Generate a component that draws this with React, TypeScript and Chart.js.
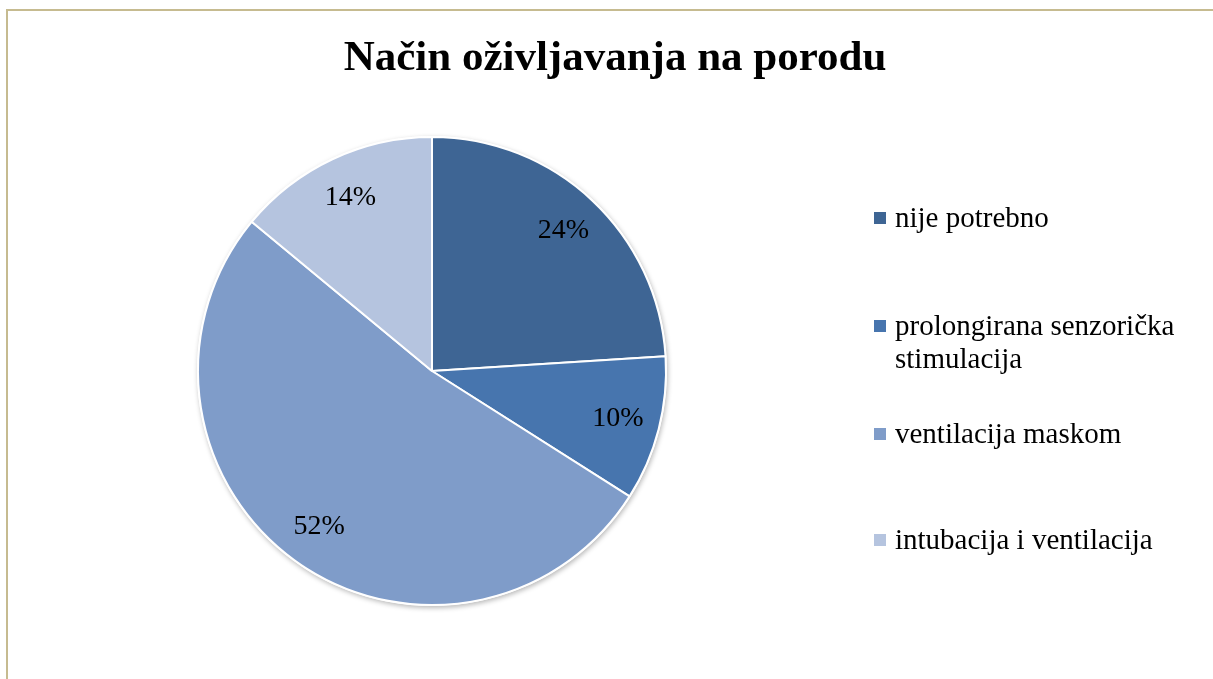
import React, { useEffect, useRef } from "react";
import { Chart, registerables } from "chart.js";

Chart.register(...registerables);

const TITLE = "Način oživljavanja na porodu";
const categories = [
  "nije potrebno",
  "prolongirana senzorička stimulacija",
  "ventilacija maskom",
  "intubacija i ventilacija",
];
const legendLines = [
  ["nije potrebno"],
  ["prolongirana senzorička", "stimulacija"],
  ["ventilacija maskom"],
  ["intubacija i ventilacija"],
];
const values = [24, 10, 52, 14];
const colors = ["#3e6594", "#4775ae", "#7f9cc9", "#b5c4df"];

const SERIF = '"Liberation Serif", "Times New Roman", serif';

const titlePlugin = {
  id: "customTitle",
  afterDraw(chart: any) {
    const ctx = chart.ctx;
    ctx.save();
    ctx.font = `bold 43px ${SERIF}`;
    ctx.fillStyle = "#000";
    ctx.textAlign = "center";
    ctx.textBaseline = "alphabetic";
    ctx.fillText(TITLE, chart.width / 2, 70);
    ctx.restore();
  },
};

const shadowPlugin = {
  id: "pieShadow",
  beforeDatasetsDraw(chart: any) {
    const meta = chart.getDatasetMeta(0);
    const arc = meta.data[0];
    if (!arc) return;
    const { x, y, outerRadius } = arc.getProps(["x", "y", "outerRadius"], true);
    const ctx = chart.ctx;
    ctx.save();
    ctx.shadowColor = "rgba(0,0,0,0.28)";
    ctx.shadowBlur = 5;
    ctx.shadowOffsetX = 1;
    ctx.shadowOffsetY = 2;
    ctx.fillStyle = "#ffffff";
    ctx.beginPath();
    ctx.arc(x, y, outerRadius + 1, 0, Math.PI * 2);
    ctx.fill();
    ctx.restore();
  },
};

const labelPlugin = {
  id: "pctLabels",
  afterDatasetsDraw(chart: any) {
    const meta = chart.getDatasetMeta(0);
    const data = chart.data.datasets[0].data as number[];
    const total = data.reduce((a, b) => a + b, 0);
    const ctx = chart.ctx;
    ctx.save();
    ctx.font = `28px ${SERIF}`;
    ctx.fillStyle = "#000";
    ctx.textAlign = "center";
    ctx.textBaseline = "middle";
    meta.data.forEach((arc: any, i: number) => {
      const { x, y, startAngle, endAngle, outerRadius } = arc.getProps(
        ["x", "y", "startAngle", "endAngle", "outerRadius"],
        true
      );
      const mid = (startAngle + endAngle) / 2;
      const r = outerRadius * 0.82;
      const pct = Math.round((data[i] / total) * 100) + "%";
      ctx.fillText(pct, x + Math.cos(mid) * r, y + Math.sin(mid) * r);
    });
    ctx.restore();
  },
};

const legendTops = [201, 309, 417, 523];

export default function App() {
  const ref = useRef<HTMLCanvasElement>(null);

  useEffect(() => {
    if (!ref.current) return;
    const chart = new Chart(ref.current, {
      type: "pie",
      data: {
        labels: categories,
        datasets: [
          {
            data: values,
            backgroundColor: colors,
            borderColor: "#ffffff",
            borderWidth: 2,
          },
        ],
      },
      options: {
        responsive: false,
        animation: false,
        devicePixelRatio: 1,
        radius: 234,
        layout: { padding: { left: 0, right: 366, top: 100, bottom: 37 } },
        plugins: {
          legend: { display: false },
          title: { display: false },
          tooltip: { enabled: false },
        },
      } as any,
      plugins: [shadowPlugin, labelPlugin, titlePlugin],
    });
    return () => chart.destroy();
  }, []);

  return (
    <div
      style={{
        position: "fixed",
        left: 0,
        top: 0,
        width: 1213,
        height: 679,
        overflow: "hidden",
        background: "#fff",
        fontFamily: SERIF,
      }}
    >
      <div
        style={{
          position: "absolute",
          left: 6,
          top: 9,
          width: 1400,
          height: 900,
          borderTop: "2px solid #c6bb90",
          borderLeft: "2px solid #c6bb90",
        }}
      />
      <canvas
        ref={ref}
        width={1230}
        height={679}
        style={{ position: "absolute", left: 0, top: 0, width: 1230, height: 679 }}
      />
      {legendLines.map((lines, i) => (
        <div key={i}>
          <div
            style={{
              position: "absolute",
              left: 874,
              top: legendTops[i] + 11,
              width: 12,
              height: 12,
              background: colors[i],
            }}
          />
          <div
            style={{
              position: "absolute",
              left: 895,
              top: legendTops[i],
              fontSize: 29,
              lineHeight: "33px",
              color: "#000",
              whiteSpace: "nowrap",
            }}
          >
            {lines.map((l, j) => (
              <div key={j}>{l}</div>
            ))}
          </div>
        </div>
      ))}
    </div>
  );
}
